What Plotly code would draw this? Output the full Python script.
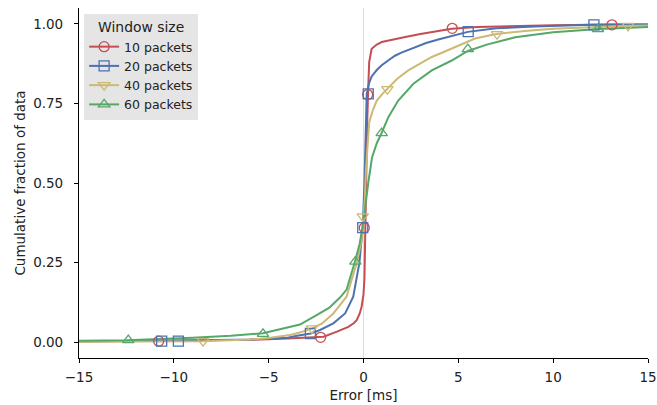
import plotly.graph_objects as go

# ---- data ----
series_names = ["10 packets", "20 packets", "40 packets", "60 packets"]

red_x = [-15, -10, -6, -4, -3, -2.1, -1.4, -0.8, -0.5, -0.36, -0.2, -0.1, 0.0, 0.05, 0.08, 0.1, 0.15, 0.2, 0.25, 0.3, 0.43, 0.7, 0.96, 1.5, 2.2, 3.0, 3.6, 4.65, 6, 8, 10, 13, 15]
red_y = [0.002, 0.004, 0.007, 0.011, 0.013, 0.017, 0.033, 0.048, 0.06, 0.069, 0.09, 0.111, 0.15, 0.2, 0.3, 0.4, 0.55, 0.7, 0.8, 0.88, 0.922, 0.935, 0.943, 0.951, 0.959, 0.968, 0.975, 0.985, 0.99, 0.994, 0.996, 0.998, 0.998]

blue_x = [-15, -10, -6, -4, -3.5, -2.78, -2.29, -1.59, -0.97, -0.54, -0.22, -0.04, 0.05, 0.1, 0.17, 0.3, 0.43, 0.7, 0.96, 1.3, 1.66, 2.0, 2.7, 3.3, 3.94, 4.6, 5.5, 7, 9, 12, 15]
blue_y = [0.003, 0.004, 0.008, 0.014, 0.02, 0.027, 0.038, 0.059, 0.09, 0.143, 0.248, 0.36, 0.5, 0.6, 0.78, 0.815, 0.835, 0.855, 0.87, 0.885, 0.9, 0.91, 0.927, 0.94, 0.951, 0.962, 0.975, 0.986, 0.992, 0.997, 0.998]

yellow_x = [-15, -10, -8.5, -6, -5.1, -3.87, -3.35, -2.7, -2.2, -1.59, -0.89, -0.36, -0.1, 0.0, 0.07, 0.13, 0.22, 0.3, 0.5, 0.7, 1.0, 1.49, 1.75, 2.36, 2.8, 3.6, 4.2, 4.82, 5.88, 7.0, 8.5, 10, 12, 14, 15]
yellow_y = [0.001, 0.002, 0.003, 0.008, 0.012, 0.022, 0.03, 0.043, 0.058, 0.09, 0.143, 0.248, 0.32, 0.395, 0.45, 0.543, 0.644, 0.69, 0.73, 0.759, 0.78, 0.812, 0.826, 0.854, 0.868, 0.896, 0.911, 0.927, 0.954, 0.968, 0.978, 0.985, 0.99, 0.994, 0.995]

green_x = [-15, -12.5, -9, -7, -5.3, -4, -3.35, -2.47, -1.8, -1.24, -0.89, -0.45, -0.2, 0.0, 0.1, 0.25, 0.45, 0.7, 0.96, 1.31, 1.83, 2.63, 3.6, 4.65, 5.5, 6.5, 8, 10, 12.4, 15]
green_y = [0.004, 0.006, 0.014, 0.02, 0.028, 0.045, 0.055, 0.085, 0.108, 0.14, 0.165, 0.253, 0.31, 0.38, 0.43, 0.5, 0.58, 0.625, 0.658, 0.707, 0.759, 0.812, 0.854, 0.885, 0.915, 0.935, 0.958, 0.974, 0.984, 0.99]

# marker positions
red_mx = [-10.8, -2.26, 0.04, 0.22, 4.68, 13.1]
red_my = [0.003, 0.015, 0.359, 0.778, 0.986, 0.997]
blue_mx = [-10.64, -9.76, -2.8, -0.04, 0.25, 5.52, 12.15]
blue_my = [0.003, 0.003, 0.027, 0.36, 0.78, 0.976, 0.997]
yellow_mx = [-8.46, -2.72, -0.04, 1.26, 7.04, 13.95]
yellow_my = [0.003, 0.043, 0.395, 0.795, 0.968, 0.994]
green_mx = [-12.4, -5.3, -0.43, 0.96, 5.5, 12.36]
green_my = [0.006, 0.026, 0.253, 0.657, 0.921, 0.984]

x_ticks = [-15, -10, -5, 0, 5, 10, 15]
y_ticks = [0.0, 0.25, 0.5, 0.75, 1.0]

colors = ["#C44E52", "#4C72B0", "#CCB974", "#55A868"]
symbols = ["circle-open", "square-open", "triangle-down-open", "triangle-up-open"]

lines = [(red_x, red_y), (blue_x, blue_y), (yellow_x, yellow_y), (green_x, green_y)]
marks = [(red_mx, red_my), (blue_mx, blue_my), (yellow_mx, yellow_my), (green_mx, green_my)]

fig = go.Figure()
for i, name in enumerate(series_names):
    lx, ly = lines[i]
    fig.add_trace(go.Scatter(x=lx, y=ly, mode="lines", line=dict(color=colors[i], width=2),
                             showlegend=False, hoverinfo="skip"))
for i, name in enumerate(series_names):
    mx, my = marks[i]
    fig.add_trace(go.Scatter(x=mx, y=my, mode="markers",
                             marker=dict(symbol=symbols[i], size=10, color=colors[i], line=dict(width=1.3, color=colors[i])),
                             showlegend=False))
for i, name in enumerate(series_names):
    fig.add_trace(go.Scatter(x=[None], y=[None], mode="lines+markers", name=name,
                             line=dict(color=colors[i], width=2),
                             marker=dict(symbol=symbols[i], size=10, color=colors[i], line=dict(width=1.3, color=colors[i]))))

fig.update_layout(
    width=657, height=405,
    margin=dict(l=79, r=9, t=8, b=47),
    paper_bgcolor="white", plot_bgcolor="white",
    font=dict(family="DejaVu Sans", size=13.5, color="#222"),
    legend=dict(
        x=0.009, y=0.983, xanchor="left", yanchor="top",
        bgcolor="#E5E5E5", borderwidth=0,
        title=dict(text="Window size", side="top center", font=dict(size=13.9, color="#222")),
        font=dict(size=12.5, color="#222"),
        itemwidth=30,
    ),
    showlegend=True,
)
fig.update_xaxes(
    range=[-15, 15], tickvals=x_ticks, ticks="outside", ticklen=4, tickcolor="black", tickwidth=1,
    showline=True, linecolor="black", linewidth=1.2, showgrid=False, automargin=False,
    zeroline=True, zerolinecolor="#DDDDDD", zerolinewidth=1, ticklabelstandoff=3,
    title=dict(text="Error [ms]", standoff=6, font=dict(size=13.5)), tickfont=dict(size=13.5, color="#222"),
)
fig.update_yaxes(
    range=[-0.05, 1.05], tickvals=y_ticks, tickformat=".2f", ticks="outside", ticklen=4, tickcolor="black", tickwidth=1,
    showline=True, linecolor="black", linewidth=1.2, showgrid=False, zeroline=False, automargin=False,
    ticklabelstandoff=8,
    title=dict(text="Cumulative fraction of data", standoff=4, font=dict(size=13.5)), tickfont=dict(size=13.5, color="#222"),
)

fig.write_html("out.html")
